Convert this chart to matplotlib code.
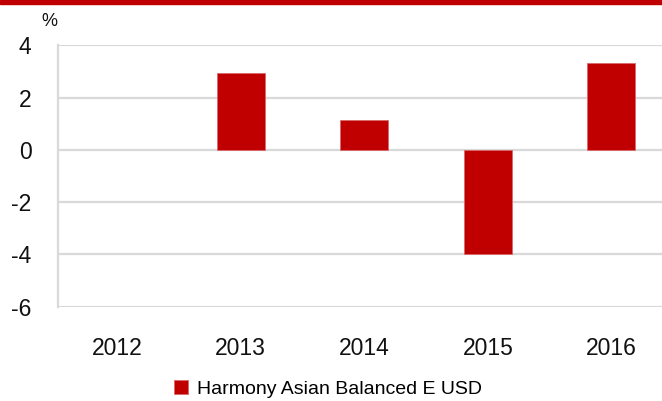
import numpy as np
import matplotlib
matplotlib.use("Agg")
from matplotlib import pyplot as plt
from matplotlib.patches import Rectangle

years = ["2012", "2013", "2014", "2015", "2016"]
returns = [np.nan, 2.95, 1.14, -4.0, 3.33]
series_name = "Harmony Asian Balanced E USD"
y_ticks = [4, 2, 0, -2, -4, -6]

red = "#C00000"
grid_col = "#D9D9D9"

plt.rcParams["font.family"] = ["Liberation Sans", "DejaVu Sans"]

fig = plt.figure(figsize=(6.62, 4.01), dpi=100)
ax = fig.add_axes([58 / 662, 1 - 306.7 / 401, 1 - 58 / 662, (306.7 - 45.3) / 401])

x = np.arange(len(years))
ax.bar(x, returns, width=0.39, color=red, edgecolor="#D96A6A", linewidth=0.6,
       label=series_name, zorder=3)

ax.set_ylim(-6, 4)
ax.set_xlim(-0.48, 4.41)
ax.set_yticks(y_ticks)
ax.set_yticklabels([str(t) for t in y_ticks])
ax.set_xticks(x)
ax.set_xticklabels(years)
ax.tick_params(axis="y", length=0, pad=19, labelsize=16.5, colors="#111111")
ax.tick_params(axis="x", length=0, pad=22, labelsize=16.5, colors="#111111")

ax.yaxis.grid(True, color=grid_col, linewidth=1.6, zorder=0)
ax.set_axisbelow(True)
for side in ["top", "right", "bottom"]:
    ax.spines[side].set_visible(False)
ax.spines["left"].set_color(grid_col)
ax.spines["left"].set_linewidth(1.6)

fig.text(41 / 662, 1 - 22 / 401, "%", fontsize=13, color="#111111",
         ha="left", va="center")

# red band along the top
fig.patches.append(Rectangle((0, 1 - 4 / 401), 1, 4 / 401, transform=fig.transFigure,
                             color=red, zorder=5))

handles, labels = ax.get_legend_handles_labels()
fig.legend(handles, labels, loc="center", bbox_to_anchor=(328 / 662, 1 - 389 / 401),
           frameon=False, fontsize=14, handlelength=0.75, handleheight=0.75,
           handletextpad=0.45, borderpad=0)

fig.savefig("out.png", dpi=100)
